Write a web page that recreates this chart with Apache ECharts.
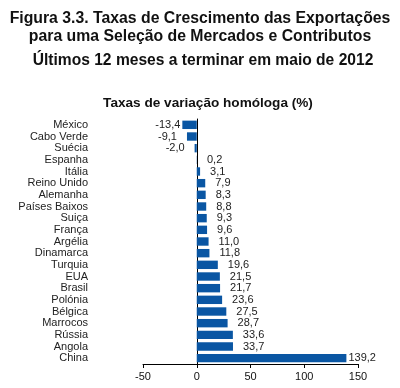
<!DOCTYPE html>
<html>
<head>
<meta charset="utf-8">
<script src="https://cdn.jsdelivr.net/npm/echarts@6/dist/echarts.min.js"></script>
<style>html,body{margin:0;padding:0;background:#fff}#c{width:400px;height:388px}</style>
</head>
<body>
<div id="c"></div>
<script>
var categories = ['México','Cabo Verde','Suécia','Espanha','Itália','Reino Unido','Alemanha','Países Baixos','Suiça','França','Argélia','Dinamarca','Turquia','EUA','Brasil','Polónia','Bélgica','Marrocos','Rússia','Angola','China'];
var values = [-13.4,-9.1,-2.0,0.2,3.1,7.9,8.3,8.8,9.3,9.6,11.0,11.8,19.6,21.5,21.7,23.6,27.5,28.7,33.6,33.7,139.2];
var xTicks = [-50, 0, 50, 100, 150];

var maxV = Math.max.apply(null, values), minV = Math.min.apply(null, values);
var seriesData = values.map(function (v) {
  var extreme = (v === maxV || v === minV);
  return {
    value: v,
    label: {
      position: v < 0 ? 'left' : 'right',
      distance: extreme ? 2 : 10
    }
  };
});

var chart = echarts.init(document.getElementById('c'), null, {renderer: 'canvas'});
var font = 'Liberation Sans, Arial, sans-serif';
chart.setOption({
  animation: false,
  backgroundColor: '#fff',
  title: [
    {text: 'Figura 3.3. Taxas de Crescimento das Exportações\npara uma Seleção de Mercados e Contributos', left: 'center', top: 5,
      textStyle: {fontFamily: font, fontSize: 15.8, fontWeight: 'bold', color: '#111', lineHeight: 18}},
    {text: 'Últimos 12 meses a terminar em maio de 2012', left: 198, textAlign: 'center', top: 48,
      textStyle: {fontFamily: font, fontSize: 15.6, fontWeight: 'bold', color: '#111'}},
    {text: 'Taxas de variação homóloga (%)', left: 203, textAlign: 'center', top: 91,
      textStyle: {fontFamily: font, fontSize: 13.6, fontWeight: 'bold', color: '#111'}}
  ],
  grid: {left: 143, right: 42, top: 119, bottom: 24, containLabel: false, outerBoundsMode: 'none'},
  xAxis: {
    type: 'value', min: -50, max: 150, interval: 50,
    axisLine: {show: true, onZero: false, lineStyle: {color: '#000', width: 1}},
    axisTick: {show: true, length: 4, inside: false, lineStyle: {color: '#000'}},
    splitLine: {show: false},
    axisLabel: {fontFamily: font, fontSize: 11, color: '#111', margin: 7,
      formatter: function (v) { return xTicks.indexOf(v) >= 0 ? String(v) : ''; }}
  },
  yAxis: {
    type: 'category', data: categories, inverse: true,
    axisLine: {show: true, onZero: true, lineStyle: {color: '#000', width: 1}},
    axisTick: {show: false},
    axisLabel: {fontFamily: font, fontSize: 11, color: '#222', margin: 55, interval: 0}
  },
  series: [{
    type: 'bar', data: seriesData, barCategoryGap: '28%',
    itemStyle: {color: '#0a56a3'},
    label: {show: true, fontFamily: font, fontSize: 11, color: '#222',
      formatter: function (p) { return p.value.toFixed(1).replace('.', ','); }}
  }]
});
</script>
</body>
</html>
